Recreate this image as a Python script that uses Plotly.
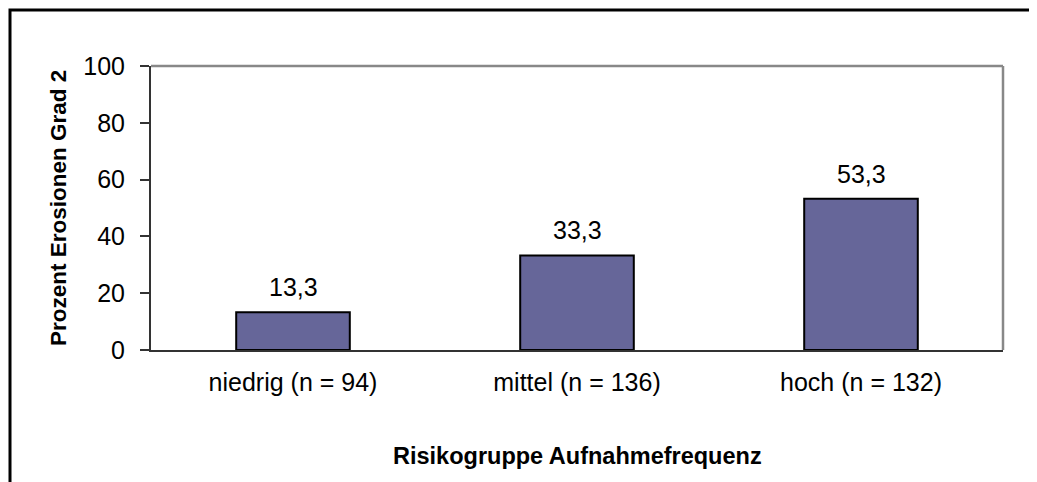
import plotly.graph_objects as go

categories = ["niedrig (n = 94)", "mittel (n = 136)", "hoch (n = 132)"]
values = [13.3, 33.3, 53.3]
value_labels = ["13,3", "33,3", "53,3"]
y_ticks = [0, 20, 40, 60, 80, 100]

# page is offset by the default 8px body margin
OFF = 8
W, H = 1037 - OFF, 482 - OFF
L, R, T, B = 151 - OFF, 34, 66 - OFF, 132
PW, PH = W - L - R, H - T - B

def px_x(px):
    return (px - OFF - L) / PW

def px_y(py):
    return (H - B - (py - OFF)) / PH

FONT = "Liberation Sans, Arial, sans-serif"

fig = go.Figure()
fig.add_trace(go.Bar(
    x=categories, y=values,
    marker=dict(color="#666699", line=dict(color="#000000", width=2)),
    width=0.4,
    hoverinfo="skip",
))

for c, v, t in zip(categories, values, value_labels):
    fig.add_annotation(x=c, y=v, text=t, showarrow=False, yanchor="middle",
                       yshift=25, font=dict(family=FONT, size=25, color="#000"))

fig.add_annotation(xref="paper", yref="paper", x=px_x(58), y=0.5, text="<b>Prozent Erosionen Grad 2</b>",
                   textangle=-90, showarrow=False, xanchor="center", yanchor="middle",
                   font=dict(family=FONT, size=22.5, color="#000"))
fig.add_annotation(xref="paper", yref="paper", x=0.5, y=px_y(456), text="<b>Risikogruppe Aufnahmefrequenz</b>",
                   showarrow=False, xanchor="center", yanchor="middle",
                   font=dict(family=FONT, size=23.5, color="#000"))

# gray top and right plot border
fig.add_shape(type="line", xref="paper", yref="paper", x0=0, x1=1, y0=1, y1=1,
              line=dict(color="#888888", width=2.5))
fig.add_shape(type="line", xref="paper", yref="paper", x0=1, x1=1, y0=0, y1=1,
              line=dict(color="#888888", width=2.5))
# outer black frame (clipped right and bottom)
fig.add_shape(type="rect", xref="paper", yref="paper",
              x0=px_x(10), x1=px_x(1060), y0=px_y(10), y1=px_y(520),
              line=dict(color="#000000", width=3))

fig.update_layout(
    width=W, height=H,
    margin=dict(l=L, r=R, t=T, b=B),
    paper_bgcolor="#ffffff", plot_bgcolor="#ffffff",
    showlegend=False,
    bargap=0.6,
    font=dict(family=FONT, size=25, color="#000"),
)
fig.update_xaxes(showline=True, linecolor="#333333", linewidth=2, showgrid=False,
                 ticks="", tickfont=dict(family=FONT, size=25, color="#000"),
                 ticklabelstandoff=9)
fig.update_yaxes(range=[0, 100], tickvals=y_ticks, showline=True, linecolor="#333333", linewidth=2,
                 showgrid=False, zeroline=False, ticks="outside", ticklen=9, tickwidth=1.5,
                 tickcolor="#333333", tickfont=dict(family=FONT, size=25, color="#000"),
                 ticklabelstandoff=10)

fig.write_html("out.html")
